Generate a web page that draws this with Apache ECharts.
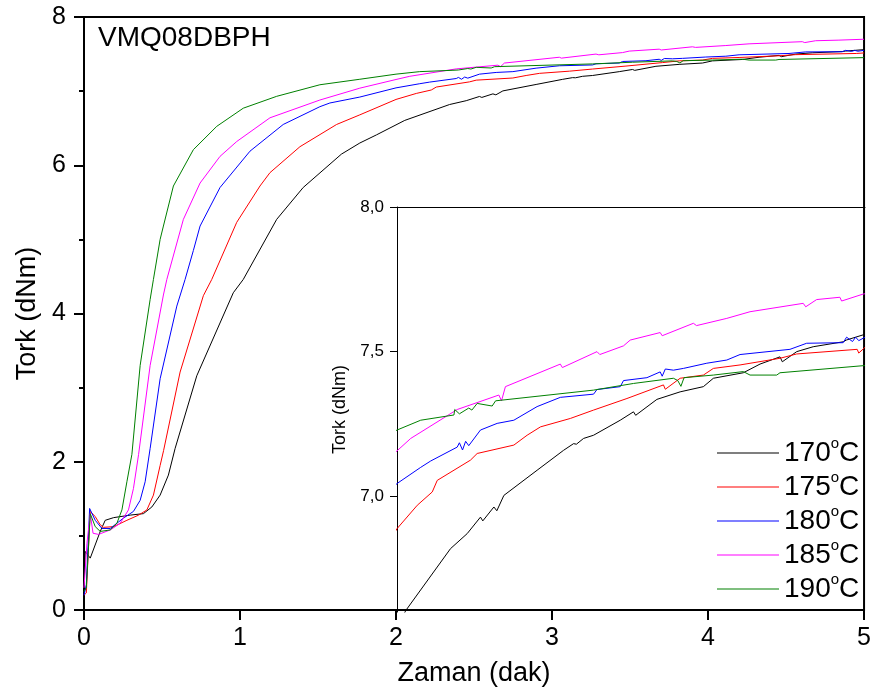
<!DOCTYPE html>
<html><head><meta charset="utf-8">
<script src="https://cdn.jsdelivr.net/npm/echarts@6/dist/echarts.min.js"></script>
<style>html,body{margin:0;padding:0;background:#fff}#c{width:874px;height:692px}</style>
</head><body><div id="c"></div>
<script>
// ---- data (time in min, torque in dNm) ----
const t170 = [0,0.008,0.04,0.104,0.136,0.19,0.296,0.381,0.435,0.488,0.541,0.584,0.723,0.957,1.021,1.235,1.405,1.65,1.768,1.875,2.056,2.343,2.45,2.535,2.55,2.621,2.64,2.685,2.898,3.068,3.132,3.15,3.196,3.26,3.431,3.516,3.53,3.666,3.815,3.964,4.028,4.22,4.327,4.455,4.47,4.562,4.668,4.86,4.88,5.0];
const v170 = [0.25,0.79,0.70,1.06,1.21,1.246,1.28,1.30,1.39,1.55,1.82,2.18,3.16,4.28,4.46,5.27,5.70,6.15,6.30,6.41,6.605,6.819,6.871,6.928,6.915,6.963,6.95,7.003,7.09,7.159,7.182,7.18,7.2,7.211,7.263,7.292,7.28,7.335,7.361,7.379,7.408,7.427,7.457,7.482,7.465,7.50,7.517,7.534,7.54,7.56];
const t175 = [0,0.015,0.04,0.072,0.104,0.125,0.19,0.275,0.35,0.403,0.445,0.488,0.51,0.616,0.765,0.819,0.979,1.128,1.192,1.384,1.619,1.768,2.0,2.13,2.226,2.258,2.471,2.514,2.749,2.834,2.92,3.111,3.26,3.474,3.708,3.72,3.815,3.964,4.028,4.199,4.455,4.562,4.95,4.96,5.0];
const v175 = [0.2,0.23,1.33,1.26,1.15,1.115,1.125,1.21,1.28,1.35,1.55,1.95,2.15,3.21,4.24,4.46,5.23,5.72,5.90,6.25,6.55,6.68,6.888,6.969,7.015,7.055,7.125,7.148,7.177,7.211,7.24,7.269,7.298,7.338,7.385,7.37,7.408,7.419,7.442,7.454,7.477,7.492,7.508,7.495,7.515];
const t180 = [0,0.015,0.036,0.072,0.115,0.168,0.253,0.317,0.36,0.392,0.424,0.488,0.595,0.648,0.701,0.744,0.872,1.064,1.277,1.512,1.576,1.768,2.0,2.152,2.216,2.386,2.40,2.42,2.44,2.46,2.535,2.642,2.749,2.898,3.047,3.26,3.282,3.431,3.452,3.602,3.687,3.70,3.72,3.772,3.836,3.986,4.114,4.199,4.519,4.626,4.86,4.882,4.92,4.94,4.96,5.0];
const v180 = [0.2,0.34,1.37,1.21,1.10,1.10,1.24,1.33,1.48,1.73,2.18,3.12,4.10,4.46,4.85,5.18,5.70,6.19,6.55,6.79,6.84,6.92,7.044,7.10,7.122,7.17,7.185,7.16,7.19,7.175,7.229,7.252,7.263,7.31,7.342,7.353,7.369,7.379,7.40,7.41,7.43,7.415,7.44,7.436,7.442,7.46,7.471,7.49,7.508,7.529,7.531,7.55,7.535,7.55,7.538,7.55];
const t185 = [0,0.019,0.04,0.058,0.093,0.168,0.232,0.285,0.317,0.35,0.424,0.509,0.531,0.637,0.744,0.872,0.979,1.192,1.512,1.768,2.0,2.088,2.386,2.653,2.67,2.695,3.047,3.06,3.282,3.30,3.452,3.495,3.687,3.70,3.9,3.92,4.114,4.263,4.604,4.62,4.69,4.839,4.85,4.988,5.0];
const v185 = [0.3,0.9,1.30,1.035,1.02,1.08,1.17,1.35,1.64,2.1,3.30,4.25,4.46,5.27,5.76,6.12,6.32,6.64,6.88,7.04,7.157,7.2,7.30,7.35,7.33,7.379,7.457,7.445,7.50,7.49,7.52,7.54,7.566,7.555,7.598,7.59,7.615,7.638,7.667,7.655,7.68,7.688,7.675,7.699,7.70];
const t190 = [0,0.015,0.04,0.072,0.104,0.168,0.211,0.243,0.275,0.307,0.36,0.424,0.445,0.488,0.509,0.573,0.701,0.851,1.021,1.235,1.512,1.768,2.0,2.152,2.365,2.37,2.40,2.46,2.48,2.514,2.61,2.632,3.26,3.516,3.772,3.80,3.82,3.84,4.028,4.22,4.263,4.434,4.455,5.0];
const v190 = [0.25,0.3,1.30,1.125,1.06,1.08,1.17,1.35,1.73,2.1,3.30,4.19,4.46,5.0,5.18,5.72,6.21,6.525,6.77,6.93,7.086,7.16,7.229,7.263,7.281,7.30,7.285,7.305,7.298,7.321,7.312,7.33,7.367,7.39,7.408,7.40,7.38,7.41,7.419,7.431,7.419,7.419,7.427,7.452];
const seriesNames = ['170ºC','175ºC','180ºC','185ºC','190ºC'];
const seriesT = [t170,t175,t180,t185,t190];
const seriesV = [v170,v175,v180,v185,v190];
const colors = ['#000000','#ff0000','#0000ff','#ff00ff','#008000'];
const insetTickValues = [7.0,7.5,8.0];

const FONT = 'Liberation Sans';
const series = [];
seriesNames.forEach((nm,i)=>{
  const d = seriesT[i].map((t,k)=>[t, seriesV[i][k]]);
  series.push({type:'line',name:nm,xAxisIndex:0,yAxisIndex:0,data:d,showSymbol:false,symbol:'none',
    lineStyle:{color:colors[i],width:1},itemStyle:{color:colors[i]},animation:false,z:3});
  series.push({type:'line',name:nm,xAxisIndex:1,yAxisIndex:1,data:d,showSymbol:false,symbol:'none',clip:true,
    lineStyle:{color:colors[i],width:1},itemStyle:{color:colors[i]},animation:false,z:4});
});

const chart = echarts.init(document.getElementById('c'),null,{renderer:'canvas'});
chart.setOption({
  backgroundColor:'#fff',
  animation:false,
  title:{text:'VMQ08DBPH',left:93,top:19,textStyle:{fontFamily:FONT,fontSize:28,fontWeight:'normal',color:'#000'}},
  legend:{orient:'vertical',left:712,top:431,itemWidth:62,itemHeight:1,itemGap:0,icon:'rect',
    data:seriesNames,
    formatter:n=>'{n|'+n.slice(0,3)+'}{s|o}{n|C}',
    textStyle:{fontFamily:FONT,color:'#000',lineHeight:34,
      rich:{n:{fontFamily:FONT,fontSize:28,color:'#000',lineHeight:34},
            s:{fontFamily:FONT,fontSize:15,color:'#000',lineHeight:34,verticalAlign:'top'}}}},
  grid:[
    {left:84,right:9,top:17,bottom:80,show:true,borderColor:'#000',borderWidth:2,containLabel:false},
    {left:397,right:9,top:207,bottom:80,show:false,containLabel:false}
  ],
  xAxis:[
    {type:'value',gridIndex:0,min:0,max:5,interval:1,
     name:'Zaman (dak)',nameLocation:'middle',nameGap:50,nameTextStyle:{fontFamily:FONT,fontSize:27,color:'#000'},
     axisLine:{show:true,onZero:false,lineStyle:{color:'#000',width:2}},
     axisTick:{show:true,inside:false,length:10,lineStyle:{color:'#000',width:2}},
     axisLabel:{fontFamily:FONT,fontSize:25,color:'#000',margin:16},
     splitLine:{show:false}},
    {type:'value',gridIndex:1,min:2,max:5,position:'top',
     axisLine:{show:true,onZero:false,lineStyle:{color:'#000',width:1}},
     axisTick:{show:false},axisLabel:{show:false},splitLine:{show:false}}
  ],
  yAxis:[
    {type:'value',gridIndex:0,min:0,max:8,interval:2,
     name:'Tork (dNm)',nameLocation:'middle',nameGap:40,nameRotate:90,nameTextStyle:{fontFamily:FONT,fontSize:27,color:'#000'},
     axisLine:{show:true,onZero:false,lineStyle:{color:'#000',width:2}},
     axisTick:{show:true,inside:false,length:10,lineStyle:{color:'#000',width:2}},
     minorTick:{show:true,splitNumber:2,length:5,lineStyle:{color:'#000',width:2}},
     axisLabel:{fontFamily:FONT,fontSize:25,color:'#000',margin:18},
     splitLine:{show:false},minorSplitLine:{show:false}},
    {type:'value',gridIndex:1,min:6.6,max:8.0,
     name:'Tork (dNm)',nameLocation:'middle',nameGap:38,nameRotate:90,nameTextStyle:{fontFamily:FONT,fontSize:18,color:'#000'},
     axisLine:{show:true,onZero:false,lineStyle:{color:'#000',width:1}},
     axisTick:{show:true,inside:false,length:7,customValues:insetTickValues,lineStyle:{color:'#000',width:1}},
     axisLabel:{fontFamily:FONT,fontSize:17,color:'#000',margin:13,customValues:insetTickValues,
       formatter:v=>v.toFixed(1).replace('.',',')},
     splitLine:{show:false}}
  ],
  series:series
});
</script></body></html>
